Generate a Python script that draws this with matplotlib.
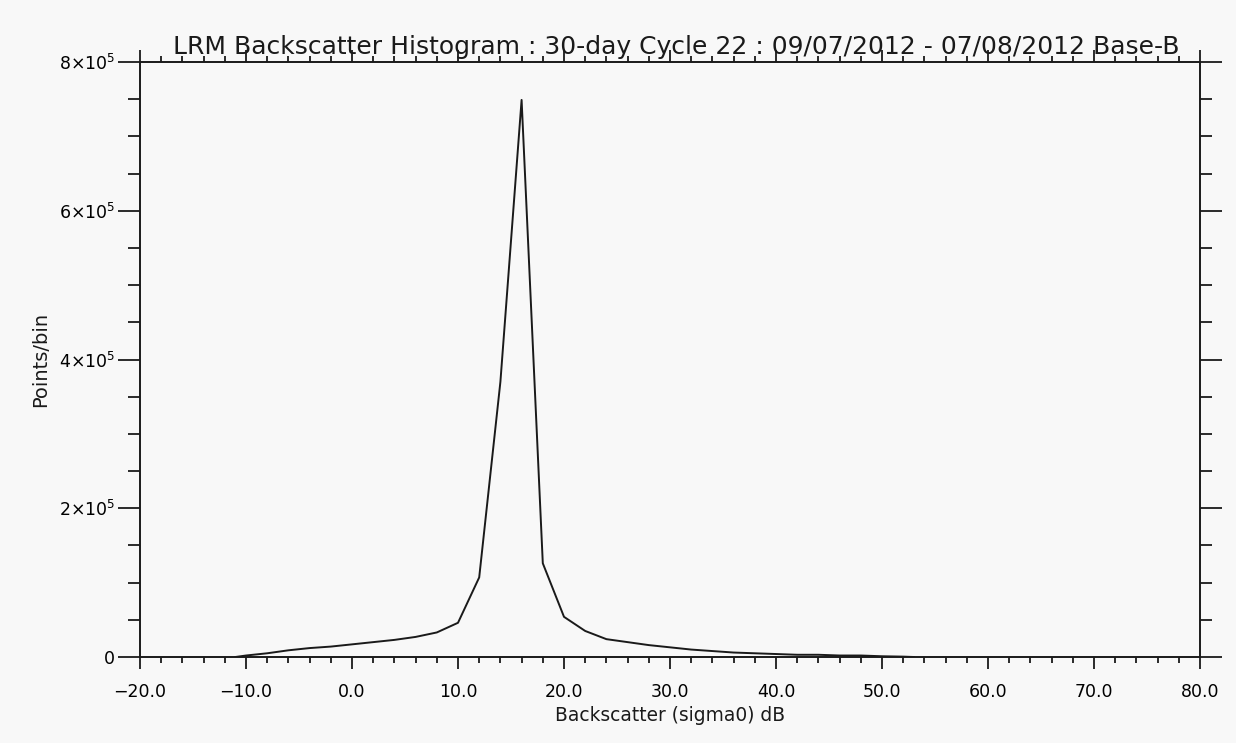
import matplotlib
matplotlib.use("Agg")
import matplotlib.pyplot as plt
from matplotlib.ticker import MultipleLocator

# Histogram (bin centre in dB, counts per bin)
sigma0 = [-11, -10, -8, -6, -4, -2, 0, 2, 4, 6, 8, 10, 12, 14, 16, 18, 20,
          22, 24, 26, 28, 30, 32, 34, 36, 38, 40, 42, 44, 46, 48, 50, 52, 53]
counts = [0, 2e3, 5e3, 9e3, 12e3, 14e3, 17e3, 20e3, 23e3, 27e3, 33e3, 46e3,
          107e3, 370e3, 749e3, 126e3, 54e3, 35e3, 24e3, 20e3, 16e3, 13e3,
          10e3, 8e3, 6e3, 5e3, 4e3, 3e3, 3e3, 2e3, 2e3, 1e3, 500, 0]

x_ticks = [-20, -10, 0, 10, 20, 30, 40, 50, 60, 70, 80]
y_ticks = [0, 2e5, 4e5, 6e5, 8e5]
y_tick_labels = ["0", r"2$\times$10$^5$", r"4$\times$10$^5$",
                 r"6$\times$10$^5$", r"8$\times$10$^5$"]

title = "LRM Backscatter Histogram : 30-day Cycle 22 : 09/07/2012 - 07/08/2012 Base-B"

bg = "#f8f8f8"
ink = "#1a1a1a"

fig = plt.figure(figsize=(12.36, 7.43), dpi=100, facecolor=bg)
ax = fig.add_axes([140 / 1236, 1 - 657 / 743, 1060 / 1236, 595 / 743])
ax.set_facecolor(bg)

ax.plot(sigma0, counts, color=ink, linewidth=1.4)

ax.set_xlim(-20, 80)
ax.set_ylim(0, 8e5)
ax.set_xticks(x_ticks)
ax.set_xticklabels([f"{v:.1f}".replace("-", "\u2212") for v in x_ticks])
ax.set_yticks(y_ticks)
ax.set_yticklabels(y_tick_labels)
ax.xaxis.set_minor_locator(MultipleLocator(2))
ax.yaxis.set_minor_locator(MultipleLocator(0.5e5))

for sp in ax.spines.values():
    sp.set_linewidth(1.4)
    sp.set_color(ink)

ax.tick_params(axis="x", which="both", direction="out", top=True, bottom=True,
               labeltop=False, color=ink, width=1.3, labelsize=12.5, pad=10)
ax.tick_params(axis="x", which="major", length=8.6)
ax.tick_params(axis="x", which="minor", length=4.5)
ax.tick_params(axis="y", which="both", direction="out", left=True, right=True,
               labelright=False, color=ink, width=1.3, labelsize=12.5, pad=2)
ax.tick_params(axis="y", which="major", length=15.8)
ax.tick_params(axis="y", which="minor", length=8.6)

ax.set_xlabel("Backscatter (sigma0) dB", fontsize=13.4, labelpad=4, color=ink)
ax.set_ylabel("Points/bin", fontsize=14, labelpad=6, color=ink)

ax.text(0.506, 1 + 8 / 595, title, transform=ax.transAxes, ha="center",
        va="baseline", fontsize=18, color=ink)

fig.savefig("out.png", dpi=100, facecolor=bg)
